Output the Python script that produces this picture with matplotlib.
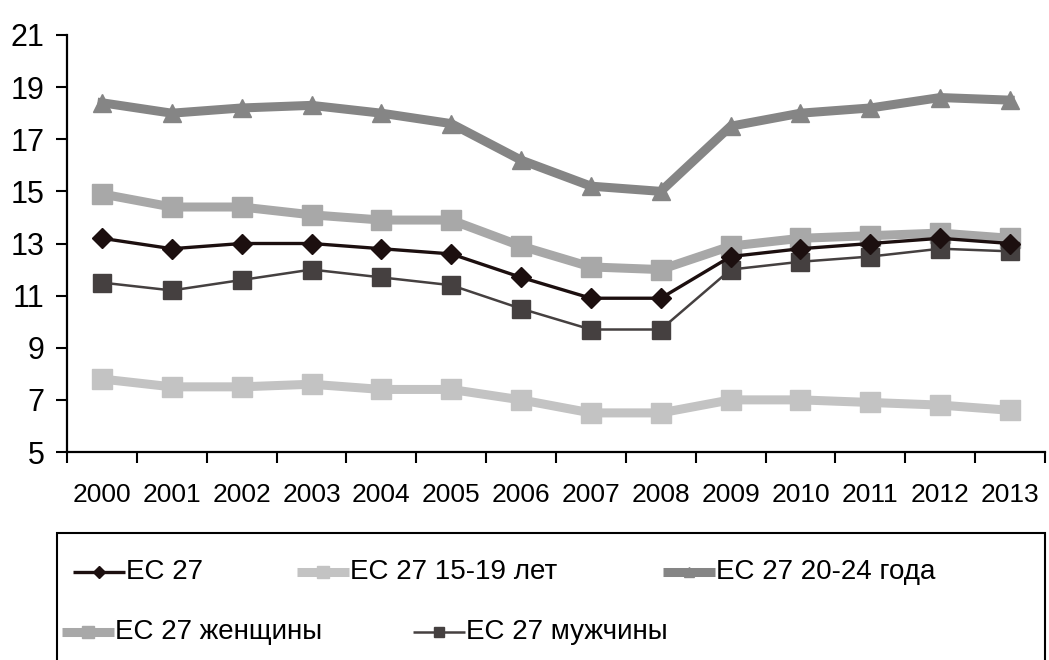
import matplotlib
matplotlib.use("Agg")
import matplotlib.pyplot as plt
from matplotlib.lines import Line2D
from matplotlib.patches import Rectangle

plt.rcParams['font.family'] = ['Liberation Sans', 'DejaVu Sans']

years = ['2000', '2001', '2002', '2003', '2004', '2005', '2006',
         '2007', '2008', '2009', '2010', '2011', '2012', '2013']
ec27 = [13.2, 12.8, 13.0, 13.0, 12.8, 12.6, 11.7, 10.9, 10.9, 12.5, 12.8, 13.0, 13.2, 13.0]
ec27_15_19 = [7.8, 7.5, 7.5, 7.6, 7.4, 7.4, 7.0, 6.5, 6.5, 7.0, 7.0, 6.9, 6.8, 6.6]
ec27_20_24 = [18.4, 18.0, 18.2, 18.3, 18.0, 17.6, 16.2, 15.2, 15.0, 17.5, 18.0, 18.2, 18.6, 18.5]
ec27_women = [14.9, 14.4, 14.4, 14.1, 13.9, 13.9, 12.9, 12.1, 12.0, 12.9, 13.2, 13.3, 13.4, 13.2]
ec27_men = [11.5, 11.2, 11.6, 12.0, 11.7, 11.4, 10.5, 9.7, 9.7, 12.0, 12.3, 12.5, 12.8, 12.7]
labels = ['ЕС 27', 'ЕС 27 15-19 лет', 'ЕС 27 20-24 года', 'ЕС 27 женщины', 'ЕС 27 мужчины']
yticks = [5, 7, 9, 11, 13, 15, 17, 19, 21]

styles = [
    dict(color='#1c0f0f', lw=2.4, marker='D', ms=10),   # EC 27
    dict(color='#c3c3c3', lw=6.5, marker='s', ms=14),   # 15-19
    dict(color='#858585', lw=6.5, marker='^', ms=13),   # 20-24
    dict(color='#a8a8a8', lw=6.5, marker='s', ms=14),   # women
    dict(color='#454040', lw=1.8, marker='s', ms=13),   # men
]
series = [ec27, ec27_15_19, ec27_20_24, ec27_women, ec27_men]
order = [1, 2, 3, 4, 0]

fig = plt.figure(figsize=(10.49, 6.6), dpi=100)
ax = fig.add_axes([67/1049, 1 - 452/660, (1045-67)/1049, (452-35)/660])

x = list(range(len(years)))
for i in order:
    s = styles[i]
    ax.plot(x, series[i], color=s['color'], lw=s['lw'], marker=s['marker'],
            ms=s['ms'], mfc=s['color'], mec=s['color'], solid_joinstyle='miter',
            zorder=2 + (i in (0, 4)))

ax.set_xlim(-0.5, len(years) - 0.5)
ax.set_ylim(5, 21)
ax.set_yticks(yticks)
ax.set_yticklabels([str(v) for v in yticks], fontsize=22)
ax.set_xticks([i - 0.5 for i in range(len(years) + 1)])
ax.set_xticklabels([])
ax.set_xticks(x, minor=True)
ax.set_xticklabels(years, minor=True, fontsize=19)
ax.tick_params(axis='x', which='minor', length=0, pad=22)
ax.tick_params(axis='x', which='major', direction='out', length=8, width=1.5)
ax.tick_params(axis='y', direction='out', length=8, width=1.5, pad=8)
for sp in ['top', 'right']:
    ax.spines[sp].set_visible(False)
for sp in ['left', 'bottom']:
    ax.spines[sp].set_linewidth(1.6)

W, H = 1049, 660
fig.patches.append(Rectangle((57/W, -0.05), (1045-57)/W, (660-533)/H + 0.05,
                             transform=fig.transFigure, fill=False, ec='black', lw=1.5))
entries = [
    (0, 73, 572), (1, 297, 572), (2, 663, 572),
    (3, 62, 632), (4, 413, 632),
]
for idx, px, py in entries:
    s = styles[idx]
    hl = 52
    yy = 1 - py / H
    fig.add_artist(Line2D([px / W, (px + hl) / W], [yy, yy], transform=fig.transFigure,
                          color=s['color'], lw=s['lw'], solid_capstyle='butt'))
    fig.add_artist(Line2D([(px + hl / 2) / W], [yy], transform=fig.transFigure,
                          color=s['color'], marker=s['marker'], ms=s['ms'] * 0.6, lw=0))
    fig.text((px + hl + 1) / W, yy, labels[idx], fontsize=20, va='center', ha='left')

fig.savefig('out.png', dpi=100)
